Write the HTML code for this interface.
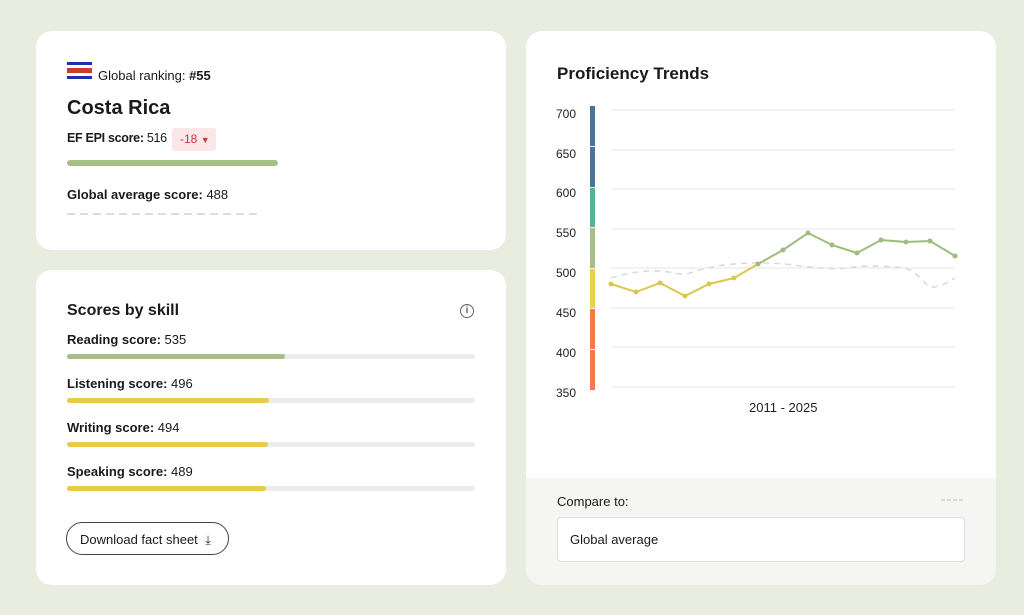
<!DOCTYPE html>
<html><head><meta charset="utf-8"><style>
*{margin:0;padding:0;box-sizing:border-box}
body{width:1024px;height:615px;background:#e8eddf;font-family:"Liberation Sans",sans-serif;color:#1a1a1a;position:relative;overflow:hidden}
.card{position:absolute;background:#fff;border-radius:16px}
.a{position:absolute;white-space:nowrap}
b{font-weight:bold}
.t13{font-size:13px}
.track{position:absolute;height:5px;border-radius:3px;background:#ececec}
.fill{position:absolute;left:0;top:0;height:5px;border-radius:3px}
.flag div{display:block;width:25px}
</style></head><body>
<div class="card" style="left:36px;top:31px;width:470px;height:219px"></div>
<div class="card" style="left:36px;top:270px;width:470px;height:315px"></div>
<div class="card" style="left:526px;top:31px;width:470px;height:554px;overflow:hidden">
  <div style="position:absolute;left:0;top:447px;width:470px;height:107px;background:#f5f6f4"></div>
</div>

<!-- flag -->
<div class="a flag" style="left:67px;top:62px;width:25px;height:17px">
 <div style="height:3px;background:#1f2fb0"></div>
 <div style="height:3px;background:#fff"></div>
 <div style="height:5px;background:#d23a2a"></div>
 <div style="height:3px;background:#fff"></div>
 <div style="height:3px;background:#1f2fb0"></div>
</div>
<div class="a t13" style="left:98px;top:68px">Global ranking: <b>#55</b></div>
<div class="a" style="left:67px;top:97px;font-size:20px;font-weight:bold">Costa Rica</div>
<div class="a" style="left:67px;top:131px;font-size:12.5px;letter-spacing:-0.3px"><b>EF EPI score:</b> 516</div>
<div class="a" style="left:172px;top:128px;width:44px;height:23px;background:#fbe6e8;border-radius:3px;color:#d2333f;font-size:12px;padding:4px 0 0 8px">-18 <span style="font-size:9px">▼</span></div>
<div class="a" style="left:67px;top:160px;width:211px;height:6px;border-radius:3px;background:#a6bf87"></div>
<div class="a t13" style="left:67px;top:187px"><b>Global average score:</b> 488</div>
<div class="a" style="left:67px;top:213px;width:194px;height:2px;background:repeating-linear-gradient(90deg,#ddd 0 8px,transparent 8px 13px)"></div>

<div class="a" style="left:67px;top:302px;font-size:16px;font-weight:bold">Scores by skill</div>
<div class="a" style="left:460px;top:304px;width:14px;height:14px;border:1.5px solid #666;border-radius:50%;font-size:10px;text-align:center;line-height:11px;color:#666;font-weight:bold">i</div>

<div class="a t13" style="left:67px;top:332px"><b>Reading score:</b> 535</div>
<div class="track" style="left:67px;top:354px;width:408px"><div class="fill" style="width:218px;background:#a6bf87"></div></div>
<div class="a t13" style="left:67px;top:376px"><b>Listening score:</b> 496</div>
<div class="track" style="left:67px;top:398px;width:408px"><div class="fill" style="width:202px;background:#ecca49"></div></div>
<div class="a t13" style="left:67px;top:420px"><b>Writing score:</b> 494</div>
<div class="track" style="left:67px;top:442px;width:408px"><div class="fill" style="width:201px;background:#ecca49"></div></div>
<div class="a t13" style="left:67px;top:464px"><b>Speaking score:</b> 489</div>
<div class="track" style="left:67px;top:486px;width:408px"><div class="fill" style="width:199px;background:#ecca49"></div></div>

<div class="a" style="left:66px;top:522px;width:163px;height:33px;border:1px solid #444;border-radius:17px;font-size:13px;padding:9px 0 0 13px">Download fact sheet <span style="font-size:12px;margin-left:4px">⤓</span></div>

<div class="a" style="left:557px;top:64px;font-size:17px;font-weight:bold">Proficiency Trends</div>

<svg class="a" style="left:0;top:0" width="1024" height="615">
<g stroke="#e6e6e6" stroke-width="1">
<line x1="611" x2="955" y1="110" y2="110"/><line x1="611" x2="955" y1="150" y2="150"/>
<line x1="611" x2="955" y1="189" y2="189"/><line x1="611" x2="955" y1="229" y2="229"/>
<line x1="611" x2="955" y1="268" y2="268"/><line x1="611" x2="955" y1="308" y2="308"/>
<line x1="611" x2="955" y1="347" y2="347"/><line x1="611" x2="955" y1="387" y2="387"/>
</g>
<g font-size="12" fill="#222" font-family="Liberation Sans">
<text x="556" y="118">700</text><text x="556" y="158">650</text><text x="556" y="197">600</text>
<text x="556" y="237">550</text><text x="556" y="277">500</text><text x="556" y="317">450</text>
<text x="556" y="357">400</text><text x="556" y="397">350</text>
<text x="749" y="412" font-size="13">2011 - 2025</text>
</g>
<rect x="590" y="106" width="5" height="40" fill="#4a7399"/>
<rect x="590" y="147" width="5" height="40" fill="#4a7399"/>
<rect x="590" y="188" width="5" height="39" fill="#55b295"/>
<rect x="590" y="228" width="5" height="40" fill="#a6bf87"/>
<rect x="590" y="269" width="5" height="39" fill="#ecd04c"/>
<rect x="590" y="309" width="5" height="40" fill="#ef7c4a"/>
<rect x="590" y="350" width="5" height="40" fill="#ef7c4a"/>
<path d="M611 278 C630 272,650 270,660 271 C675 272,680 276,690 273 C705 268,720 265,734 264 C760 262,770 263,785 264 C810 267,830 270,848 268 C870 264,890 267,905 268 C920 273,925 285,930 287 C940 288,948 282,955 278" fill="none" stroke="#d9d9d9" stroke-width="1.5" stroke-dasharray="6,5"/>
<polyline points="611,284 636,292 660,283 685,296 709,284 734,278 758,264" fill="none" stroke="#d8c94e" stroke-width="2"/>
<polyline points="758,264 783,250 808,233 832,245 857,253 881,240 906,242 930,241 955,256" fill="none" stroke="#a0bb7e" stroke-width="2"/>
<g fill="#d8c94e"><circle cx="611" cy="284" r="2.5"/><circle cx="636" cy="292" r="2.5"/><circle cx="660" cy="283" r="2.5"/><circle cx="685" cy="296" r="2.5"/><circle cx="709" cy="284" r="2.5"/><circle cx="734" cy="278" r="2.5"/></g>
<g fill="#a0bb7e"><circle cx="758" cy="264" r="2.5"/><circle cx="783" cy="250" r="2.5"/><circle cx="808" cy="233" r="2.5"/><circle cx="832" cy="245" r="2.5"/><circle cx="857" cy="253" r="2.5"/><circle cx="881" cy="240" r="2.5"/><circle cx="906" cy="242" r="2.5"/><circle cx="930" cy="241" r="2.5"/><circle cx="955" cy="256" r="2.5"/></g>
<line x1="941" x2="965" y1="500" y2="500" stroke="#d0d0d0" stroke-width="1.5" stroke-dasharray="4,2"/>
<path d="M940 537 l5 5 l5 -5" fill="none" stroke="#222" stroke-width="1.6"/>
</svg>

<div class="a t13" style="left:557px;top:494px">Compare to:</div>
<div class="a" style="left:557px;top:517px;width:408px;height:45px;background:#fff;border:1px solid #ddd;border-radius:4px"></div>
<div class="a t13" style="left:570px;top:532px">Global average</div>
</body></html>
